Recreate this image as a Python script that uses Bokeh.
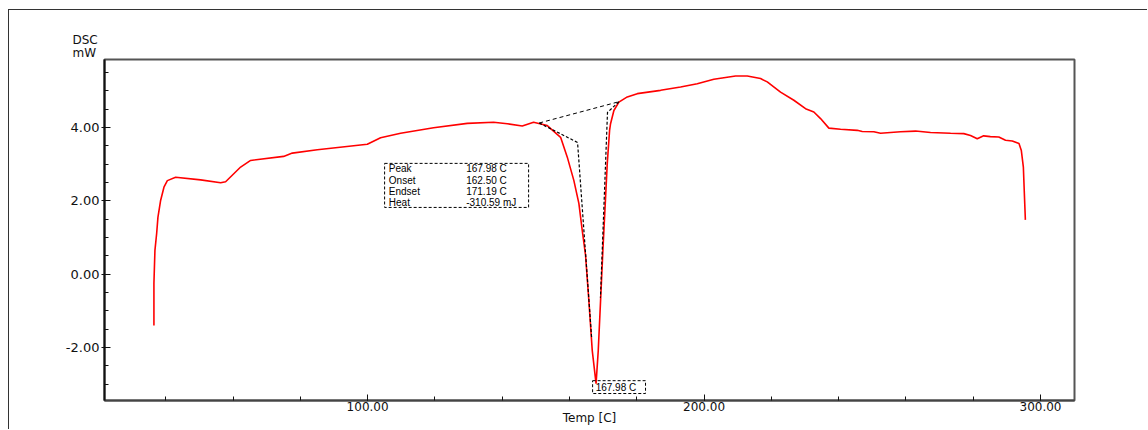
import numpy as np
from bokeh.plotting import figure
from bokeh.models import FixedTicker, PrintfTickFormatter, Range1d, Title
from bokeh.core.properties import value
from bokeh.embed import file_html
from bokeh.resources import INLINE

# ---- DSC curve (Temp [C], DSC [mW]) ----
temp = [36.49, 36.49, 36.79, 37.30, 37.68, 38.48, 39.47, 40.48, 42.94, 50.37,
        56.32, 57.80, 62.26, 65.23, 75.04, 77.62, 85.05, 99.91, 103.86, 109.81,
        119.61, 129.63, 137.44, 141.52, 145.97, 149.33, 153.40, 157.36, 159.35, 161.31,
        162.79, 163.80, 164.78, 165.76, 166.77, 167.90, 168.55, 169.24, 169.93, 170.73,
        171.23, 171.92, 172.21, 173.20, 174.68, 177.18, 180.15, 187.07, 193.02, 197.98,
        202.91, 209.36, 212.84, 216.79, 218.78, 222.73, 226.69, 230.16, 232.63, 234.62,
        237.09, 240.57, 245.53, 247.01, 250.46, 252.45, 258.40, 262.85, 267.31, 273.26,
        277.20, 279.20, 281.20, 283.10, 285.10, 287.60, 289.60, 291.60, 293.60, 294.30,
        294.90, 295.20, 295.50]
dsc = [-1.40, -0.25, 0.65, 1.11, 1.55, 2.01, 2.37, 2.55, 2.64, 2.57,
       2.49, 2.52, 2.92, 3.10, 3.21, 3.30, 3.39, 3.54, 3.72, 3.84,
       3.99, 4.11, 4.14, 4.10, 4.04, 4.14, 4.05, 3.73, 3.19, 2.55,
       1.93, 1.19, 0.51, -0.72, -2.08, -2.98, -2.08, -0.72, 0.65, 2.10,
       3.02, 3.92, 4.10, 4.46, 4.69, 4.83, 4.92, 5.01, 5.10, 5.19,
       5.31, 5.40, 5.40, 5.33, 5.24, 4.96, 4.74, 4.51, 4.42, 4.24,
       3.98, 3.95, 3.92, 3.89, 3.88, 3.84, 3.88, 3.90, 3.86, 3.84,
       3.83, 3.78, 3.69, 3.77, 3.75, 3.74, 3.65, 3.63, 3.56, 3.37,
       2.92, 2.19, 1.48]

# ---- peak analysis construction lines ----
baseline_t = [151.0, 174.7]
baseline_v = [4.12, 4.70]
onset_t = [151.0, 162.4, 166.6]
onset_v = [4.12, 3.59, -1.75]
endset_t = [174.7, 171.3, 169.2]
endset_v = [4.70, 4.41, -0.64]

# ---- analysis results ----
ann_names = ["Peak", "Onset", "Endset", "Heat"]
ann_values = ["167.98 C", "162.50 C", "171.19 C", "-310.59 mJ"]
peak_temp = 167.98
peak_text = "167.98 C"

# ---- axes ----
x_major = [100, 200, 300]
x_minor = list(range(40, 301, 20))
y_major = [-2, 0, 2, 4]
y_minor = list(np.arange(-3.0, 5.51, 0.5))

FONT = "DejaVu Sans"
SMALL = "Liberation Sans"

p = figure(width=1139, height=420, output_backend="svg", toolbar_location=None,
           x_range=Range1d(21.8, 310.1), y_range=Range1d(-3.44, 5.85),
           min_border_left=95, min_border_top=49, min_border_right=74,
           min_border_bottom=30)
p.styles = {"margin-left": "8px", "margin-top": "9px",
            "border-left": "1px solid #333", "border-top": "1px solid #333"}
p.grid.visible = False
p.background_fill_color = "white"
p.border_fill_color = "white"
p.outline_line_color = "#555555"
p.outline_line_width = 2

for ax in (p.xaxis[0], p.yaxis[0]):
    ax.major_label_text_font = FONT
    ax.major_label_text_font_size = "12px"
    ax.major_label_text_color = "#111111"
    ax.major_tick_line_color = "#111111"
    ax.minor_tick_line_color = "#111111"
    ax.axis_line_width = 2

p.yaxis.major_label_text_font_size = "13px"
p.xaxis.ticker = FixedTicker(ticks=x_major, minor_ticks=x_minor)
p.yaxis.ticker = FixedTicker(ticks=y_major, minor_ticks=y_minor)
p.xaxis.formatter = PrintfTickFormatter(format="%.2f")
p.yaxis.formatter = PrintfTickFormatter(format="%.2f")
p.xaxis.axis_line_color = "#444444"
p.yaxis.axis_line_color = "#111111"
p.xaxis.major_tick_in = 6
p.xaxis.major_tick_out = 0
p.xaxis.minor_tick_in = 4
p.xaxis.minor_tick_out = 0
p.xaxis.major_label_standoff = 1
p.yaxis.major_tick_in = 6
p.yaxis.major_tick_out = 3
p.yaxis.minor_tick_in = 4
p.yaxis.minor_tick_out = 0
p.yaxis.major_label_standoff = 2

p.xaxis.axis_label = "Temp [C]"
p.xaxis.axis_label_text_font = FONT
p.xaxis.axis_label_text_font_size = "12px"
p.xaxis.axis_label_text_font_style = "normal"
p.xaxis.axis_label_text_color = "#111111"
p.xaxis.axis_label_standoff = -3

# y-axis title above the axis ("DSC" over "mW")
p.add_layout(Title(text="mW", align="left", offset=-32, standoff=0,
                   text_font=FONT, text_font_size="12px", text_font_style="normal",
                   text_color="#111111"), "above")
p.add_layout(Title(text="DSC", align="left", offset=-32, standoff=-7,
                   text_font=FONT, text_font_size="12px", text_font_style="normal",
                   text_color="#111111"), "above")

# curve
p.line(temp, dsc, line_color="#ff0000", line_width=1.6)

# construction lines
p.line(baseline_t, baseline_v, line_color="black", line_width=1, line_dash="4 3")
p.line(onset_t, onset_v, line_color="black", line_width=1.2, line_dash="3 2")
p.line(endset_t, endset_v, line_color="black", line_width=1.2, line_dash="3 2")

# results box
p.quad(left=[105.05], right=[147.85], bottom=[1.82], top=[3.02],
       fill_color=None, line_color="black", line_width=1, line_dash="3 2")
row_v = [2.88, 2.555, 2.255, 1.955]
p.text(x=[106.3] * 4, y=row_v, text=ann_names, text_font=value(SMALL),
       text_font_size="10px", text_baseline="middle", text_color="black")
p.text(x=[129.3] * 4, y=row_v, text=ann_values, text_font=value(SMALL),
       text_font_size="10px", text_baseline="middle", text_color="black")

# peak label
p.quad(left=[166.87], right=[182.6], bottom=[-3.25], top=[-2.90],
       fill_color=None, line_color="black", line_width=1, line_dash="3 2")
p.text(x=[peak_temp - 0.2], y=[-3.075], text=[peak_text], text_font=value(SMALL),
       text_font_size="10px", text_baseline="middle", text_color="black")

open("out.html", "w").write(file_html(p, INLINE))
